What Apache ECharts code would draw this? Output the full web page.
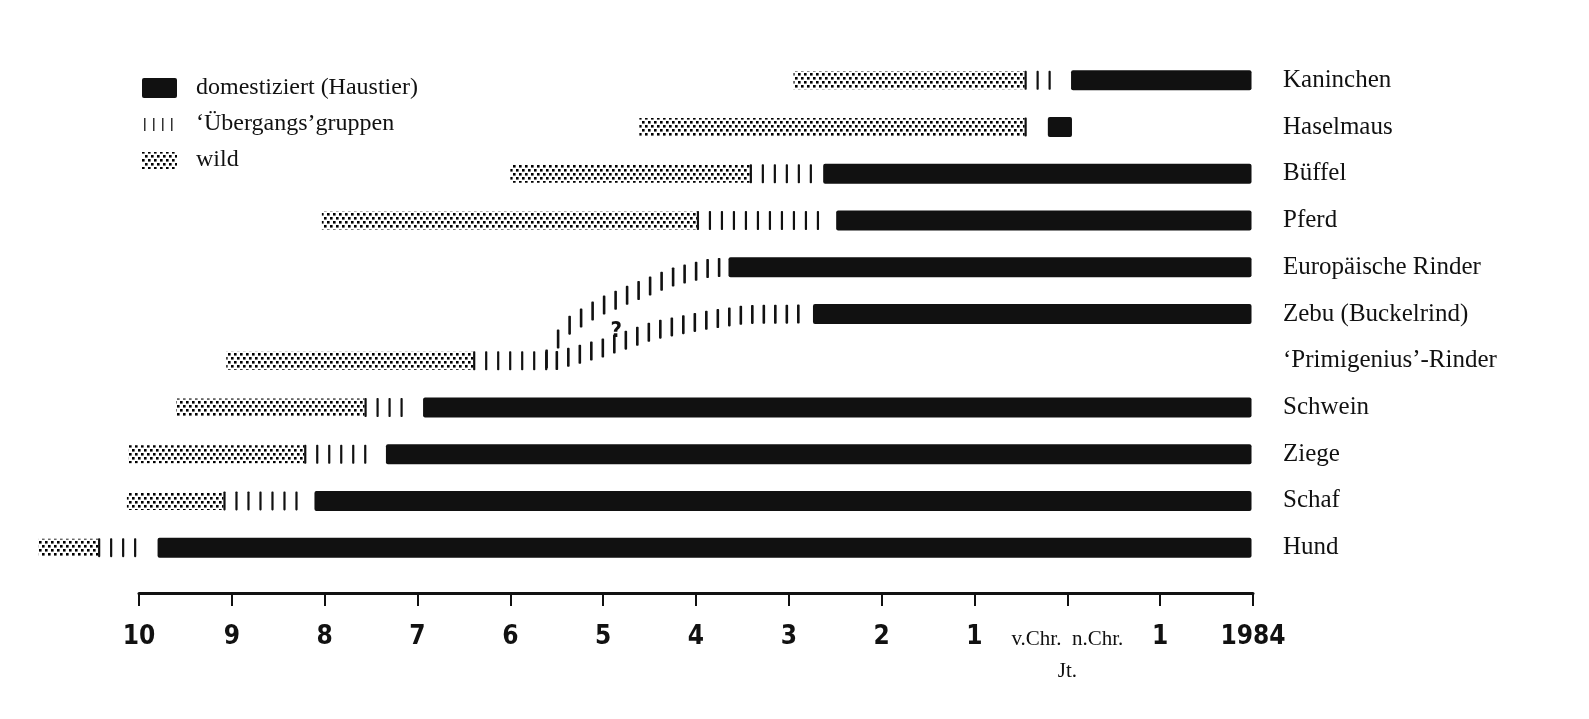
<!DOCTYPE html>
<html>
<head>
<meta charset="utf-8">
<script src="https://cdn.jsdelivr.net/npm/echarts@6/dist/echarts.min.js"></script>
<style>
html,body{margin:0;padding:0;background:#fff;}
#chart{width:1589px;height:719px;}
</style>
</head>
<body>
<div id="chart"></div>
<script>
// ---------- DATA (time in millennia; negative = v.Chr., 1.984 = 1984 n.Chr.) ----------
const categories = ['Kaninchen','Haselmaus','Büffel','Pferd','Europäische Rinder','Zebu (Buckelrind)','‘Primigenius’-Rinder','Schwein','Ziege','Schaf','Hund'];
const wildStart  = [-2.95, -4.61, -6.00, -8.03, null, null, -9.06, -9.60, -10.11, -10.13, -11.08];
const wildEnd    = [-0.46, -0.46, -3.42, -3.99, null, null, -6.40, -7.57, -8.22, -9.09, -10.44];
const transStart = [-0.46, -0.46, -3.42, -3.99, null, null, -6.40, -7.57, -8.22, -9.09, -10.44];
const transEnd   = [-0.08, -0.30, -2.71, -2.59, null, null, -5.55, -7.05, -7.43, -8.22, -9.91];
const domStart   = [0.04, -0.21, -2.63, -2.49, -3.65, -2.74, null, -6.94, -7.34, -8.11, -9.80];
const domEnd     = [1.984, 0.05, 1.984, 1.984, 1.984, 1.984, null, 1.984, 1.984, 1.984, 1.984];
// transition branches from 'Primigenius'-Rinder (row positions, 0 = Kaninchen)
const branchEuropT   = [-5.62, -5.42, -5.05, -4.67, -4.27, -3.89, -3.72];
const branchEuropRow = [6.0, 5.31, 4.86, 4.54, 4.22, 4.03, 4.0];
const branchZebuT    = [-5.51, -4.99, -4.45, -3.91, -3.46, -2.80];
const branchZebuRow  = [6.0, 5.72, 5.35, 5.14, 5.01, 5.0];
const questionMark = [-4.86, 5.36];
// axis ticks
const tickValues = [-10,-9,-8,-7,-6,-5,-4,-3,-2,-1,0,1,2];
const tickLabels = ['10','9','8','7','6','5','4','3','2','1','v.Chr.  n.Chr.','1','1984'];
const axisUnit = 'Jt.';
const legendNames = ['domestiziert (Haustier)', '‘Übergangs’gruppen', 'wild'];

// ---------- styles ----------
const INK = '#111';
const SERIF = "'Liberation Serif', 'DejaVu Serif', serif";
const NARROW = "'Liberation Sans Narrow', 'DejaVu Sans Condensed', 'Liberation Sans', sans-serif";

function makeDots(){
  const c = document.createElement('canvas'); c.width = 6; c.height = 8;
  const g = c.getContext('2d'); g.fillStyle = '#000';
  g.fillRect(0,1,2.6,2.6); g.fillRect(3,5,2.6,2.6);
  return c;
}
const dotCanvas = makeDots();
const dotPattern = {image: dotCanvas, repeat: 'repeat'};

function iconDom(){
  const c = document.createElement('canvas'); c.width=35; c.height=20;
  const g = c.getContext('2d'); g.fillStyle = INK;
  g.beginPath(); g.moveTo(2,0); g.lineTo(33,0); g.quadraticCurveTo(35,0,35,2); g.lineTo(35,18); g.quadraticCurveTo(35,20,33,20); g.lineTo(2,20); g.quadraticCurveTo(0,20,0,18); g.lineTo(0,2); g.quadraticCurveTo(0,0,2,0); g.fill();
  return c.toDataURL();
}
function iconTrans(){
  const c = document.createElement('canvas'); c.width=35; c.height=20;
  const g = c.getContext('2d'); g.fillStyle = '#333';
  [2,11,20,29].forEach(x=>g.fillRect(x,4,1.5,13));
  return c.toDataURL();
}
function iconWild(){
  const c = document.createElement('canvas'); c.width=35; c.height=20;
  const g = c.getContext('2d'); g.fillStyle = g.createPattern(dotCanvas,'repeat');
  g.fillRect(0,2,35,17);
  return c.toDataURL();
}

function rowPx(api, r){
  const a = api.coord([0,0])[1], b = api.coord([0,1])[1];
  return a + r*(b-a);
}
function strokesOnPolyline(pts, step, h, w){
  const out = [];
  const x0 = pts[0][0], x1 = pts[pts.length-1][0];
  for (let x = x0 + 1; x <= x1 - 2; x += step){
    let k = 0; while (k < pts.length-2 && pts[k+1][0] < x) k++;
    const p = pts[k], q = pts[k+1];
    const f = (x - p[0]) / Math.max(1e-6, (q[0]-p[0]));
    const y = p[1] + f*(q[1]-p[1]);
    out.push({type:'rect', shape:{x:x-w/2, y:y-h/2, width:w, height:h, r:0.8}, style:{fill:INK}});
  }
  return out;
}

const wildData = [], transData = [], domData = [];
categories.forEach((c,i)=>{
  if (wildStart[i] != null) wildData.push([wildStart[i], wildEnd[i], i]);
  if (transStart[i] != null) transData.push([transStart[i], transEnd[i], i]);
  if (domStart[i] != null) domData.push([domStart[i], domEnd[i], i]);
});
const branches = [[branchEuropT, branchEuropRow], [branchZebuT, branchZebuRow]];
const branchData = branches.map((b,k)=>[b[0][0], b[1][0], k]);

const BAR_H = 20;

const chart = echarts.init(document.getElementById('chart'), null, {renderer:'canvas'});
chart.setOption({
  animation: false,
  backgroundColor: '#fff',
  grid: {left: 139, right: 336, top: 57, bottom: 148, containLabel: false},
  legend: {
    orient: 'vertical', left: 137, top: 71, itemWidth: 35, itemHeight: 20, itemGap: 12,
    selectedMode: false,
    textStyle: {fontFamily: SERIF, fontSize: 24, color: INK, padding: [0,0,0,14]},
    data: [
      {name: legendNames[0], icon: 'image://' + iconDom()},
      {name: legendNames[1], icon: 'image://' + iconTrans()},
      {name: legendNames[2], icon: 'image://' + iconWild()}
    ]
  },
  xAxis: {
    type: 'value', min: -10, max: 2, interval: 1, position: 'bottom', offset: 22,
    splitLine: {show: false},
    axisLine: {show: true, lineStyle: {color: INK, width: 3}},
    axisTick: {show: true, length: 13, lineStyle: {color: INK, width: 2}},
    axisLabel: {
      margin: 29, color: INK,
      formatter: function(v){
        const k = tickValues.indexOf(Math.round(v));
        if (k < 0) return '';
        if (tickValues[k] === 0) return '{s|' + tickLabels[k] + '}\n{j|' + axisUnit + '}';
        return '{b|' + tickLabels[k] + '}';
      },
      rich: {
        b: {fontFamily: NARROW, fontWeight: 'bold', fontSize: 26, lineHeight: 30, color: INK},
        s: {fontFamily: SERIF, fontSize: 21, lineHeight: 30, color: INK, padding: [5,0,0,0]},
        j: {fontFamily: SERIF, fontSize: 21, lineHeight: 38, color: INK}
      }
    }
  },
  yAxis: {
    type: 'category', data: categories, inverse: true, position: 'right',
    axisLine: {show: false}, axisTick: {show: false}, splitLine: {show: false},
    axisLabel: {margin: 30, align: 'left', fontFamily: SERIF, fontSize: 25, color: INK}
  },
  series: [
    {
      name: legendNames[2], type: 'custom', data: wildData, encode: {x: [0,1], y: 2}, clip: false,
      itemStyle: {color: '#888'},
      renderItem: function(params, api){
        const i = api.value(2);
        const p0 = api.coord([api.value(0), i]), p1 = api.coord([api.value(1), i]);
        const h = 18;
        return {type: 'rect', shape: {x: p0[0], y: p0[1]-h/2, width: p1[0]-p0[0], height: h},
                style: {fill: dotPattern}};
      }
    },
    {
      name: legendNames[1], type: 'custom', data: transData, encode: {x: [0,1], y: 2}, clip: false,
      itemStyle: {color: INK},
      renderItem: function(params, api){
        const i = api.value(2);
        const p0 = api.coord([api.value(0), i]), p1 = api.coord([api.value(1), i]);
        return {type: 'group', children: strokesOnPolyline([p0, p1], 12, 19, 2.2)};
      }
    },
    {
      name: legendNames[1], type: 'custom', data: branchData, encode: {x: 0, y: 1}, clip: false,
      itemStyle: {color: INK},
      renderItem: function(params, api){
        const k = api.value(2);
        const ts = branches[k][0], rs = branches[k][1];
        const pts = ts.map((t,j)=>[api.coord([t,0])[0], rowPx(api, rs[j])]);
        const kids = strokesOnPolyline(pts, 11.5, 19, 2.6);
        if (k === 1){
          kids.push({type: 'text', x: api.coord([questionMark[0],0])[0], y: rowPx(api, questionMark[1]),
            style: {text: '?', fontFamily: NARROW, fontWeight: 'bold', fontSize: 22, fill: INK,
                    align: 'center', verticalAlign: 'middle'}});
        }
        return {type: 'group', children: kids};
      }
    },
    {
      name: legendNames[0], type: 'custom', data: domData, encode: {x: [0,1], y: 2}, clip: false,
      itemStyle: {color: INK},
      renderItem: function(params, api){
        const i = api.value(2);
        const p0 = api.coord([api.value(0), i]), p1 = api.coord([api.value(1), i]);
        return {type: 'rect', shape: {x: p0[0], y: p0[1]-BAR_H/2, width: p1[0]-p0[0], height: BAR_H, r: 2},
                style: {fill: INK}};
      }
    }
  ]
});
</script>
</body>
</html>
